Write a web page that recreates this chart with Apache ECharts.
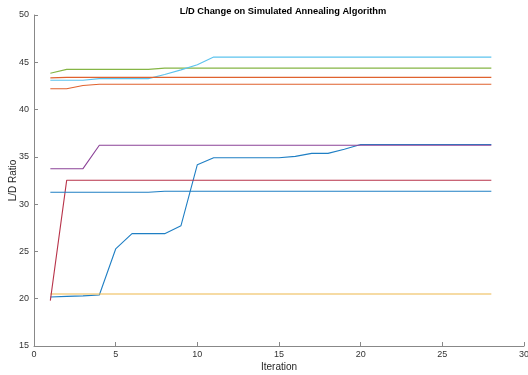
<!DOCTYPE html>
<html>
<head>
<meta charset="utf-8">
<script src="https://cdn.jsdelivr.net/npm/echarts@6/dist/echarts.min.js"></script>
<style>html,body{margin:0;padding:0;background:#fff}#c{width:528px;height:375px}</style>
</head>
<body>
<div id="c"></div>
<script>
var iterations = [1,2,3,4,5,6,7,8,9,10,11,12,13,14,15,16,17,18,19,20,21,22,23,24,25,26,27,28];
var xTicks = [0,5,10,15,20,25,30];
var yTicks = [15,20,25,30,35,40,45,50];

var runA = [20.18,20.25,20.3,20.39,25.26,26.88,26.88,26.88,27.72,34.17,34.91,34.91,34.91,34.91,34.91,35.05,35.37,35.37,35.8,36.3,36.3,36.3,36.3,36.3,36.3,36.3,36.3,36.3];
var runB = [42.2,42.2,42.55,42.67,42.67,42.67,42.67,42.67,42.67,42.67,42.67,42.67,42.67,42.67,42.67,42.67,42.67,42.67,42.67,42.67,42.67,42.67,42.67,42.67,42.67,42.67,42.67,42.67];
var runC = [20.5,20.5,20.5,20.5,20.5,20.5,20.5,20.5,20.5,20.5,20.5,20.5,20.5,20.5,20.5,20.5,20.5,20.5,20.5,20.5,20.5,20.5,20.5,20.5,20.5,20.5,20.5,20.5];
var runD = [33.75,33.75,33.75,36.23,36.23,36.23,36.23,36.23,36.23,36.23,36.23,36.23,36.23,36.23,36.23,36.23,36.23,36.23,36.23,36.23,36.23,36.23,36.23,36.23,36.23,36.23,36.23,36.23];
var runE = [43.85,44.25,44.25,44.25,44.25,44.25,44.25,44.38,44.38,44.38,44.38,44.38,44.38,44.38,44.38,44.38,44.38,44.38,44.38,44.38,44.38,44.38,44.38,44.38,44.38,44.38,44.38,44.38];
var runF = [43.1,43.1,43.1,43.27,43.27,43.27,43.27,43.7,44.2,44.75,45.55,45.55,45.55,45.55,45.55,45.55,45.55,45.55,45.55,45.55,45.55,45.55,45.55,45.55,45.55,45.55,45.55,45.55];
var runG = [19.8,32.52,32.52,32.52,32.52,32.52,32.52,32.52,32.52,32.52,32.52,32.52,32.52,32.52,32.52,32.52,32.52,32.52,32.52,32.52,32.52,32.52,32.52,32.52,32.52,32.52,32.52,32.52];
var runH = [31.25,31.25,31.25,31.25,31.25,31.25,31.25,31.36,31.36,31.36,31.36,31.36,31.36,31.36,31.36,31.36,31.36,31.36,31.36,31.36,31.36,31.36,31.36,31.36,31.36,31.36,31.36,31.36];
var runI = [43.35,43.4,43.4,43.4,43.4,43.4,43.4,43.4,43.4,43.4,43.4,43.4,43.4,43.4,43.4,43.4,43.4,43.4,43.4,43.4,43.4,43.4,43.4,43.4,43.4,43.4,43.4,43.4];

var runs = [runA, runB, runC, runD, runE, runF, runG, runH, runI];
var colors = ['#1F7FC4','#E0622E','#EDB84A','#8C4398','#85B545','#5CC3EE','#B8334A','#1F7FC4','#E0622E'];

var font = 'Liberation Sans, Arial, Helvetica, sans-serif';
var series = runs.map(function (r, k) {
  return {
    type: 'line',
    data: iterations.map(function (it, i) { return [it, r[i]]; }),
    showSymbol: false,
    symbol: 'none',
    lineStyle: { color: colors[k], width: 1.1 },
    itemStyle: { color: colors[k] },
    z: 2
  };
});

var chart = echarts.init(document.getElementById('c'));
chart.setOption({
  animation: false,
  backgroundColor: '#fff',
  title: {
    text: 'L/D Change on Simulated Annealing Algorithm',
    left: 278, top: 2, textAlign: 'center',
    textStyle: { fontFamily: font, fontSize: 9.3, fontWeight: 'bold', color: '#000' }
  },
  grid: { left: 34, right: 4, top: 15, bottom: 29, outerBoundsMode: 'none', containLabel: false },
  xAxis: {
    type: 'value', min: xTicks[0], max: xTicks[xTicks.length - 1], interval: 5,
    name: 'Iteration', nameLocation: 'middle', nameGap: 16, nameMoveOverlap: false,
    nameTextStyle: { fontFamily: font, fontSize: 10, color: '#262626' },
    axisLine: { show: true, lineStyle: { color: '#888', width: 1 } },
    axisTick: { show: true, inside: true, length: 4, lineStyle: { color: '#888' } },
    axisLabel: { fontFamily: font, fontSize: 9, color: '#333', margin: 4 },
    splitLine: { show: false }
  },
  yAxis: {
    type: 'value', min: yTicks[0], max: yTicks[yTicks.length - 1], interval: 5,
    name: 'L/D Ratio', nameLocation: 'middle', nameGap: 16, nameMoveOverlap: false,
    nameTextStyle: { fontFamily: font, fontSize: 10, color: '#262626' },
    axisLine: { show: true, lineStyle: { color: '#888', width: 1 } },
    axisTick: { show: true, inside: true, length: 4, lineStyle: { color: '#888' } },
    axisLabel: { fontFamily: font, fontSize: 9, color: '#333', margin: 5 },
    splitLine: { show: false }
  },
  series: series
});
</script>
</body>
</html>
